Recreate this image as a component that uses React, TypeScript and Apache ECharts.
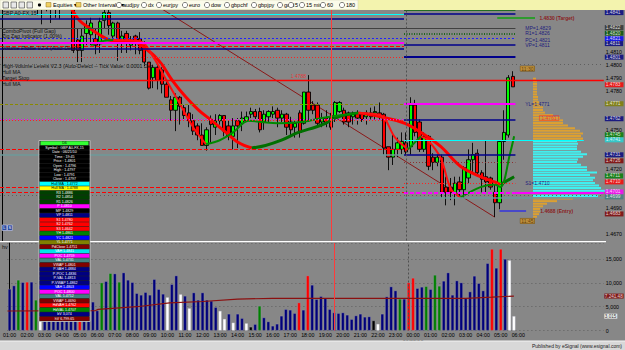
import { useEffect, useRef } from "react";
import * as echarts from "echarts";

// ---------------- data ----------------
const SLOTS = 136;
const slotTimes: string[] = Array.from({ length: SLOTS }, (_, i) => {
  const m = 60 + i * 15;
  const h = Math.floor(m / 60) % 24;
  return `${String(h).padStart(2, "0")}:${String(m % 60).padStart(2, "0")}`;
});
const LAST_LABEL_INDEX = 116;
const NEW_DAY_DATE = "06/22/10";
const SESSION_BREAK = 91; // 23:45 bar
const CURSOR_INDEX = 74;

const PRICE_MIN = 1.4665;
const PRICE_MAX = 1.4842;
const priceGrid = [1.467, 1.468, 1.469, 1.47, 1.471, 1.472, 1.473, 1.474, 1.475, 1.476, 1.477, 1.478, 1.479, 1.48, 1.481, 1.482, 1.483, 1.484];
// tick labels that stay visible beside the value tags
const priceTickLabels = [1.481, 1.48, 1.479, 1.478, 1.475, 1.472, 1.469, 1.467];
const volumeTickLabels = [0, 5000, 10000, 15000];

// [open, close, low, high]
const candles: number[][] = [
  [1.4858, 1.4862, 1.4853, 1.4866], [1.4862, 1.486, 1.4855, 1.4867], [1.486, 1.4856, 1.4851, 1.4863], [1.4856, 1.4859, 1.485, 1.4862],
  [1.4859, 1.4854, 1.4849, 1.4861], [1.4854, 1.4857, 1.4848, 1.486], [1.4857, 1.4853, 1.4847, 1.4859], [1.4853, 1.4851, 1.4845, 1.4856],
  [1.4851, 1.4847, 1.4838, 1.4853], [1.4847, 1.485, 1.4831, 1.4854], [1.485, 1.4848, 1.4841, 1.4856], [1.4848, 1.4845, 1.4832, 1.4852],
  [1.4845, 1.485, 1.4836, 1.4853], [1.485, 1.4847, 1.4835, 1.4855], [1.4847, 1.4852, 1.4844, 1.4858], [1.4852, 1.485, 1.4845, 1.4856],
  [1.4852, 1.4811, 1.4809, 1.4855], [1.4819, 1.4811, 1.4802, 1.4828], [1.4811, 1.4822, 1.4802, 1.4828], [1.4824, 1.483, 1.4815, 1.4834],
  [1.4823, 1.4832, 1.4815, 1.4836], [1.482, 1.4815, 1.4808, 1.4828], [1.4816, 1.4833, 1.4809, 1.4836], [1.4834, 1.484, 1.4828, 1.4842],
  [1.484, 1.483, 1.4823, 1.4842], [1.4822, 1.4832, 1.4818, 1.4833], [1.4832, 1.4818, 1.4803, 1.4833], [1.4817, 1.4822, 1.4809, 1.4826],
  [1.4824, 1.4818, 1.4809, 1.4826], [1.4815, 1.4819, 1.4811, 1.4822], [1.4822, 1.4817, 1.4808, 1.4823], [1.482, 1.4811, 1.4808, 1.4825],
  [1.4815, 1.4802, 1.4799, 1.4818], [1.4802, 1.4782, 1.4781, 1.4802], [1.479, 1.4798, 1.4782, 1.48], [1.4798, 1.4788, 1.4781, 1.48],
  [1.4796, 1.4785, 1.4778, 1.4798], [1.4785, 1.4775, 1.4775, 1.4788], [1.4773, 1.4765, 1.4757, 1.4776], [1.4765, 1.4775, 1.4749, 1.4778],
  [1.4775, 1.4768, 1.4754, 1.4776], [1.4767, 1.4761, 1.4757, 1.4769], [1.4763, 1.4757, 1.4752, 1.4769], [1.4757, 1.4749, 1.4746, 1.4762],
  [1.4753, 1.4746, 1.4742, 1.4755], [1.4746, 1.4738, 1.4738, 1.4755], [1.4738, 1.475, 1.4734, 1.4752], [1.4758, 1.4754, 1.474, 1.4761],
  [1.4752, 1.4757, 1.4746, 1.4762], [1.4757, 1.4761, 1.4754, 1.4762], [1.4761, 1.4749, 1.4745, 1.4761], [1.4753, 1.4745, 1.4742, 1.4757],
  [1.4745, 1.4753, 1.4735, 1.4759], [1.4757, 1.4753, 1.4736, 1.4759], [1.4755, 1.4759, 1.4749, 1.4764], [1.4757, 1.476, 1.4756, 1.4764],
  [1.4762, 1.4764, 1.4759, 1.4767], [1.4764, 1.476, 1.4758, 1.4766], [1.4764, 1.475, 1.4748, 1.4767], [1.4756, 1.4762, 1.475, 1.4765],
  [1.476, 1.4764, 1.4756, 1.4765], [1.4762, 1.4764, 1.4759, 1.4768], [1.4765, 1.4759, 1.4752, 1.4767], [1.4759, 1.4762, 1.4756, 1.4765],
  [1.4762, 1.4752, 1.4746, 1.4763], [1.4756, 1.475, 1.4746, 1.476], [1.4752, 1.4755, 1.4744, 1.4758], [1.4763, 1.4748, 1.4744, 1.4765],
  [1.4755, 1.4779, 1.4754, 1.4779], [1.4779, 1.4765, 1.4756, 1.4792], [1.4769, 1.4765, 1.4762, 1.4772], [1.4769, 1.4755, 1.4752, 1.4771],
  [1.4756, 1.4759, 1.4752, 1.4763], [1.4759, 1.4755, 1.4752, 1.4765], [1.476, 1.4752, 1.475, 1.4763], [1.4759, 1.4771, 1.4756, 1.4772],
  [1.4764, 1.4771, 1.4763, 1.4772], [1.4765, 1.4756, 1.4754, 1.4767], [1.4763, 1.4756, 1.4752, 1.4764], [1.476, 1.4763, 1.4754, 1.4764],
  [1.4763, 1.4759, 1.4754, 1.4765], [1.4762, 1.4758, 1.4756, 1.4763], [1.476, 1.4763, 1.4754, 1.4765], [1.4763, 1.476, 1.4758, 1.4767],
  [1.4763, 1.4764, 1.4758, 1.4768], [1.4763, 1.476, 1.4758, 1.4771], [1.4762, 1.4736, 1.4731, 1.4763], [1.4737, 1.4729, 1.4719, 1.4737],
  [1.4729, 1.4735, 1.4723, 1.4748], [1.4735, 1.474, 1.4729, 1.4744], [1.4735, 1.4741, 1.4731, 1.4748], [1.474, 1.4733, 1.4731, 1.4748],
  [1.4737, 1.4769, 1.4731, 1.4775], [1.4769, 1.4748, 1.4745, 1.4773], [1.4756, 1.4735, 1.4733, 1.4758], [1.4735, 1.4745, 1.4733, 1.4748],
  [1.4745, 1.4722, 1.4719, 1.4746], [1.4729, 1.4725, 1.4719, 1.4732], [1.4725, 1.4729, 1.4722, 1.4731], [1.4729, 1.4702, 1.4698, 1.4731],
  [1.4706, 1.4702, 1.4692, 1.4714], [1.4706, 1.4702, 1.4696, 1.4713], [1.4702, 1.4709, 1.4692, 1.4714], [1.471, 1.4704, 1.4698, 1.4714],
  [1.4704, 1.4721, 1.4698, 1.4722], [1.4713, 1.4727, 1.4709, 1.4735], [1.4727, 1.4731, 1.4717, 1.474], [1.4732, 1.4717, 1.4714, 1.4735],
  [1.4717, 1.4712, 1.4702, 1.4719], [1.4714, 1.471, 1.4702, 1.4742], [1.4713, 1.4706, 1.4704, 1.4714], [1.4702, 1.4694, 1.4683, 1.4708],
  [1.4694, 1.4741, 1.4689, 1.4742], [1.4741, 1.4748, 1.4727, 1.4765], [1.4746, 1.479, 1.4744, 1.4792], [1.4791, 1.4783, 1.4783, 1.4795],
];

const volumes: number[] = [
  8720, 9420, 10610, 10120, 10190, 10190, 6410, 7250, 7800, 7000,
  8500, 9000, 8000, 7500, 8200, 9500, 11000, 8500, 7000, 6000,
  4170, 10050, 10330, 12010, 11940, 10190, 12150, 10610, 10120, 7810,
  7460, 8020, 7460, 10750, 8650, 7670, 6970, 9700, 11520, 7600,
  7250, 4660, 7950, 6410, 7950, 6410, 6200, 4870, 4100, 2420,
  3470, 1640, 3470, 2560, 1510, 740, 1300, 5150, 2700, 1860,
  950, 1370, 3050, 4450, 4310, 3610, 5850, 4310, 11520, 9560,
  6550, 7180, 6830, 4450, 3750, 3610, 3750, 3260, 2350, 3120,
  3470, 2840, 2910, 2070, 1370, 3470, 7110, 9210, 8370, 6620,
  6620, 10050, 11030, 8860, 9140, 9280, 8650, 11660, 9350, 10400,
  12150, 7460, 10470, 10050, 6760, 8160, 11450, 9910, 8370, 14110,
  17120, 13130, 17120, 15020, 14740, 3015,
];
// n normal, g high up, r high down, w low, k lowest
const volumeKinds: string[] = (
  "nngnrngwnn" + "nnnnnnrnnn" + "ngngngnnnn" + "nnnnnnwnnw" + "nwnnnnnnww" + "nwnnwkngnn" +
  "nnnnnnrnrn" + "nnnnnnnnnn" + "nnnkwnnnng" + "nrrnngnggn" + "nnnnnnnnnn" + "rnrnww"
).split("");
const volumeAverage: number[][] = [
  [-0.5, 4100], [19.6, 4200], [20.2, 4450], [29, 5000], [36.5, 5800], [44, 6100], [52, 6600],
  [60, 6760], [104, 6760], [110, 7000], [115, 7241],
];
const VOLUME_AVG_LAST = "7,241.48";
const VOLUME_LAST = "3,015";

// Hull moving averages: [bar index, price]
const slowHullRed = [
  [[15.6, 1.4843], [17.4, 1.4834], [19.7, 1.4828], [21.9, 1.4823], [24.1, 1.4819], [26.8, 1.4818], [29.3, 1.4818], [30.9, 1.4816], [32.4, 1.4812], [34.2, 1.4807], [36.0, 1.48], [38.3, 1.4788], [41.4, 1.4775], [44.3, 1.4765], [47.2, 1.4757], [50.4, 1.4748], [53.3, 1.474], [56.2, 1.4736]],
  [[80.2, 1.4763], [85.3, 1.476], [90.7, 1.4755], [95.2, 1.4746], [98.8, 1.4737], [103.2, 1.4722], [107.7, 1.4714], [110.9, 1.471], [112.2, 1.4708]],
];
const slowHullGreen = [
  [[56.2, 1.4736], [59.3, 1.4738], [62.9, 1.4742], [66.7, 1.4748], [70.5, 1.4752], [72.8, 1.4755], [75.7, 1.476], [80.2, 1.4763]],
  [[112.2, 1.4708], [115.3, 1.4714]],
];
const fastHullRed = [
  [[25.0, 1.4819], [31.0, 1.4818], [34.0, 1.4806], [37.0, 1.4788], [40.0, 1.477], [43.0, 1.4752], [45.9, 1.4739]],
  [[80.2, 1.4763], [85.3, 1.4761], [88.5, 1.4744], [91.4, 1.4735]],
  [[94.3, 1.4745], [95.9, 1.4742], [98.8, 1.4728], [101.0, 1.4705], [103.2, 1.4698]],
];
const fastHullGreen = [
  [[20.0, 1.4815], [22.5, 1.4818], [25.0, 1.4819]],
  [[45.9, 1.4739], [49.0, 1.4742], [52.0, 1.4748], [55.5, 1.4757], [58.4, 1.4756], [62.0, 1.4755], [67.4, 1.4756], [72.0, 1.4759], [75.7, 1.4761], [80.2, 1.4763]],
  [[91.4, 1.4735], [94.3, 1.4745]],
  [[103.2, 1.4698], [107.7, 1.4706], [110.9, 1.4708], [112.2, 1.4706], [114.4, 1.4732], [115.3, 1.4745]],
];
const zigZagLine = [[35.4, 1.4844], [110.9, 1.4683]];

// pivot / level lines
const prevLevels = [1.4839, 1.4835, 1.4817, 1.4814, 1.4812, 1.4806, 1.477, 1.4758, 1.4757, 1.4735, 1.4731, 1.4706, 1.4702];
const prevLevelKinds = ["cyan", "navy", "magenta", "redDash", "navy", "redDot", "oliveDash", "magentaDot", "redDot", "redDash", "teal", "redDash", "redDash"];
const currLevels = [1.4842, 1.4839, 1.4824, 1.4815, 1.4806, 1.477, 1.4758, 1.4731, 1.4725, 1.4709];
const currLevelKinds = ["green", "navy", "greenDot", "navy", "navyBold", "magenta", "navy", "navy", "brownDot", "redDot"];
const wideLevels = [1.4828, 1.482];
const wideLevelKinds = ["gray", "blueDot"];
const VAH_LINE = 1.4742;
const POC_LINE = 1.4702;
const VAL_LINE = 1.4698;
const TARGET_STOP = 1.4788;
const TARGET = 1.4836;
const ENTRY = 1.4688;

// volume profile
const profilePrices = [
  1.4789, 1.4787, 1.4785, 1.4783, 1.4781, 1.4779, 1.4777, 1.4775, 1.4773, 1.4771, 1.4769, 1.4767, 1.4765, 1.4763,
  1.4761, 1.4759, 1.4757, 1.4755, 1.4753, 1.4751, 1.4749, 1.4747, 1.4745, 1.4743, 1.4741, 1.4739, 1.4737, 1.4735,
  1.4733, 1.4731, 1.4729, 1.4727, 1.4725, 1.4723, 1.4721, 1.4719, 1.4717, 1.4715, 1.4713, 1.4711, 1.4709, 1.4707,
  1.4705, 1.4703, 1.4701, 1.4699, 1.4697, 1.4695, 1.4693, 1.4691, 1.4689, 1.4687, 1.4685, 1.4683,
];
const profileVolumes = [
  3, 4, 4, 4, 4, 4, 4, 5, 5, 6, 7, 10, 10, 12,
  20, 27, 30, 30, 35, 42, 47, 50, 48, 50, 44, 45, 44, 44,
  48, 54, 50, 45, 44, 48, 54, 54, 64, 57, 62, 60, 62, 66,
  68, 77, 68, 65, 40, 24, 14, 10, 7, 7, 6, 4,
];
const PROFILE_STEP = 0.0002;
const PROFILE_VAH = 1.4742;
const PROFILE_VAL = 1.4698;

// annotations near the right
const noteTexts = ["MP=1.4829", "R1=1.4826", "PC=1.4821", "VP=1.4811", "1.4830 (Target)", "YL=1.4771", "S1=1.4710", "1.4688 (Entry)", "1.4788", "1.4761"];
const notePoints = [[117.8, 1.4828], [117.8, 1.48245], [117.8, 1.4819], [117.8, 1.48155], [121.0, 1.4836], [117.8, 1.477], [117.8, 1.4709], [121.2, 1.4688], [65.0, 1.4791], [121.0, 1.4759]];
const noteKinds = ["navy", "navy", "navy", "navy", "darkred", "navy", "navy", "darkred", "red", "redbox"];
const timeBoxTexts = ["11:30", "11:45"];
const timeBoxPoints = [[116.7, 1.4797], [116.7, 1.468]];

// right-axis value tags
const tagTexts = ["1.4841", "1.4822", "1.4820", "1.4821", "1.4811", "1.4801", "1.4783", "1.4771", "1.4762", "1.4745", "1.4741", "1.4731", "1.4726", "1.4711", "1.4710", "1.4701", "1.4699", "1.4683"];
const tagPrices = [1.484, 1.48285, 1.48242, 1.482, 1.48162, 1.48058, 1.47846, 1.477, 1.47585, 1.47462, 1.47423, 1.47308, 1.47262, 1.47146, 1.471, 1.47023, 1.46985, 1.46854];
const tagFills = ["#000080", "#303030", "#005000", "#0000ff", "#000080", "#000080", "#ff0000", "#808000", "#000080", "#008000", "#20d8d8", "#000080", "#800000", "#008000", "#ff0000", "#ff00ff", "#408080", "#800000"];

// data window
const infoTexts = [
  "D6", "Symbol : GBP A0-FX,15", "Date : 06/21/10", "Time : 19:45", "Price : 1.4801", "Open : 1.4796", "High : 1.4797", "Low : 1.4791", "Close : 1.4797",
  "Hull MA : 1.4772", "Hull MA : 1.4788", "R3 1.4886", "R2 1.4854", "R1 1.4826", "P 1.4810", "MP 1.4829", "VP 1.4811",
  "S1 1.4780", "S2 1.4762", "S3 1.4642", "YH 1.4861", "YC 1.4821", "YL 1.4771", "PdClose 1.4751", "VAH 1.4841", "POC 1.4759",
  "VAL 1.4731", "VWAP 1.4801", "P-VAH 1.4884", "P-POC 1.4836", "P-VAL 1.4813", "P-VWAP 1.4862", "VAH 1.4803", "POC 1.4800",
  "VAL 1.4712", "VWAP 1.4690", "HdVAH 1.4762", "HdVAL 1.4707", "bV 3,074", "hV 6,799.65",
];
const infoFills = [
  "#33ff33", "#000", "#000", "#000", "#000", "#000", "#000", "#000", "#000",
  "#00ffff", "#ffff00", "#004000", "#004000", "#004000", "#ff00ff", "#000", "#000080",
  "#ff0000", "#ff0000", "#ff0000", "#008000", "#0000ff", "#808000", "#800000", "#00e8e8", "#ff00ff",
  "#408080", "#800000", "#000080", "#000080", "#000080", "#000080", "#0000ff", "#ff00ff",
  "#408080", "#800000", "#ff0000", "#008000", "#000080", "#800000",
];

const toolbarItems = ["audjpy", "dx", "eurjpy", "euro", "dow", "gbpchf", "gbpjpy", "gold", "5", "15 min", "60", "180"];
const toolbarX = [119, 144, 159, 185, 207, 227, 254, 280, 291, 302, 323, 342];
const legendTexts = [
  "GBP A0-FX,15", "ComboPivot (Full Gap)", "Zig Zag Indicator (1.00%)", "Volume Profile V2.4 (Auto-Detect)",
  "High-Volume Levels V2.3 (Auto-Detect -- Tick Value: 0.0001 Dec",
  "Hull MA", "Target Stop", "Hull MA",
];
const legendY = [13, 30.5, 36, 48, 66, 72, 78, 84];

// ---------------- styles ----------------
const FONT = "Liberation Sans, Arial, sans-serif";
const BG = "#878787";
const LS: Record<string, any> = {
  cyan: { color: "#00ffff", width: 1.2, type: "solid" },
  navy: { color: "#00008b", width: 1.5, type: "solid" },
  navyBold: { color: "#00008b", width: 2, type: "solid" },
  magenta: { color: "#ff00ff", width: 2, type: "solid" },
  magentaDot: { color: "#ff00ff", width: 1, type: [1, 2] },
  magentaDash: { color: "#ff00ff", width: 1.8, type: [4, 2] },
  redDash: { color: "#ff0000", width: 1, type: [4, 2] },
  redDot: { color: "#ff2020", width: 1, type: [1, 2] },
  red: { color: "#ff0000", width: 1.4, type: "solid" },
  oliveDash: { color: "#8a8a00", width: 1, type: [3, 2] },
  teal: { color: "#6d9a9a", width: 1.5, type: "solid" },
  green: { color: "#006400", width: 1.5, type: "solid" },
  greenDot: { color: "#005a00", width: 1.5, type: [1, 1.5] },
  brownDot: { color: "#8b3030", width: 1, type: [1, 2] },
  gray: { color: "#404040", width: 1, type: "solid" },
  blueDot: { color: "#2020ff", width: 1, type: [2, 2] },
  target: { color: "#10a010", width: 1.5, type: "solid" },
  entry: { color: "#4848c8", width: 2, type: "solid" },
};
const VOL_COLORS: Record<string, string> = { n: "#00007a", g: "#008000", r: "#ff0000", w: "#ffffff", k: "#000000" };
const NOTE_COLORS: Record<string, string> = { navy: "#00007a", darkred: "#8b0000", red: "#ff2020", redbox: "#ff2020" };

function seg(from: number, to: number, price: number, style: any) {
  return [{ coord: [from, price], lineStyle: style }, { coord: [to, price] }];
}

function buildOption(): any {
  const levelLines: any[] = [];
  priceGrid.forEach((p) => levelLines.push({ yAxis: p, lineStyle: { color: "#5f5f5f", width: 1, type: [1, 3] } }));
  prevLevels.forEach((p, i) => levelLines.push(seg(-0.5, 90.5, p, LS[prevLevelKinds[i]])));
  currLevels.forEach((p, i) => levelLines.push(seg(90.5, 115.6, p, LS[currLevelKinds[i]])));
  wideLevels.forEach((p, i) => levelLines.push(seg(-0.5, 115.6, p, LS[wideLevelKinds[i]])));
  levelLines.push(seg(90.5, 131, VAH_LINE, LS.cyan));
  levelLines.push(seg(90.5, 115.6, POC_LINE, LS.magentaDash));
  levelLines.push(seg(115.6, 135.5, POC_LINE, LS.magenta));
  levelLines.push(seg(90.5, 135.5, VAL_LINE, LS.teal));
  levelLines.push(seg(-0.5, 135.5, TARGET_STOP, LS.red));
  levelLines.push(seg(111.5, 120, TARGET, LS.target));
  levelLines.push(seg(112, 118, ENTRY, LS.entry));
  levelLines.push({ xAxis: SESSION_BREAK, lineStyle: { color: "#505050", width: 1, type: [2, 2] } });
  levelLines.push({ xAxis: CURSOR_INDEX, lineStyle: { color: "#ff3a3a", width: 1, type: "solid" } });

  const hullSeries: any[] = [];
  const addHull = (segs: number[][][], color: string, width: number) =>
    segs.forEach((d) =>
      hullSeries.push({
        type: "line", xAxisIndex: 2, yAxisIndex: 0, data: d, smooth: 0.35, symbol: "none", z: 4,
        lineStyle: { color, width }, silent: true, clip: true,
      })
    );
  addHull(slowHullRed, "#ff0000", 3);
  addHull(slowHullGreen, "#007000", 3);
  addHull(fastHullRed, "#ff1010", 2);
  addHull(fastHullGreen, "#008a00", 2);

  const notes = noteTexts.map((t, i) => ({
    value: notePoints[i], name: t,
    label: noteKinds[i] === "redbox"
      ? { color: NOTE_COLORS.redbox, borderColor: "#ff2020", borderWidth: 0.6, padding: [0, 2] }
      : { color: NOTE_COLORS[noteKinds[i]], fontWeight: noteKinds[i] === "darkred" ? "bold" : "normal" },
  }));
  timeBoxTexts.forEach((t, i) =>
    notes.push({ value: timeBoxPoints[i], name: t, label: { color: "#4a2800", backgroundColor: "#c8902a", borderColor: "#6a4a10", borderWidth: 0.5, padding: [0, 1] } as any })
  );

  const tags = tagTexts.map((t, i) => ({
    value: [135.5, tagPrices[i]], name: t,
    label: { backgroundColor: tagFills[i] },
  }));

  const graphics: any[] = [];
  // toolbar
  graphics.push({ type: "rect", z: 100, shape: { x: 0, y: 0, width: 625, height: 10 }, style: { fill: "#f3f3ae" } });
  graphics.push({ type: "rect", z: 100, shape: { x: 0, y: 0, width: 358, height: 9.5 }, style: { fill: "#fbfbea", stroke: "#d0d0b0", lineWidth: 0.5 } });
  [3, 11, 19, 27].forEach((x) =>
    graphics.push({ type: "rect", z: 101, shape: { x, y: 2, width: 5.5, height: 6 }, style: { fill: "#e8e8e8", stroke: "#404040", lineWidth: 0.6 } })
  );
  graphics.push({ type: "circle", z: 101, shape: { cx: 39.5, cy: 5, r: 1.6 }, style: { fill: "#000" } });
  [[46, "Equities ▾"], [76, "Other Intervals ▾"]].forEach(([x, t]: any) => {
    graphics.push({ type: "rect", z: 101, shape: { x, y: 2.5, width: 5, height: 4.5 }, style: { fill: "#f0d060", stroke: "#907020", lineWidth: 0.5 } });
    graphics.push({ type: "text", z: 101, x: x + 7, y: 5, style: { text: t, fill: "#000", fontSize: 5.5, fontFamily: FONT, verticalAlign: "middle" } });
  });
  toolbarItems.forEach((t, i) => {
    graphics.push({ type: "circle", z: 101, shape: { cx: toolbarX[i], cy: 5, r: 2.6 }, style: { fill: "#fff", stroke: "#333", lineWidth: 0.6 } });
    graphics.push({ type: "text", z: 101, x: toolbarX[i] + 4, y: 5, style: { text: t, fill: "#000", fontSize: 5.5, fontFamily: FONT, verticalAlign: "middle" } });
  });
  // legend
  legendTexts.forEach((t, i) =>
    graphics.push({ type: "text", z: 90, x: 2, y: legendY[i], style: { text: t, fill: "#101010", fontSize: 5.3, fontFamily: FONT, verticalAlign: "middle" } })
  );
  // panel separator
  graphics.push({ type: "line", z: 90, shape: { x1: 0, y1: 241.6, x2: 606, y2: 241.6 }, style: { stroke: "#ffffff", lineWidth: 1.4 } });
  graphics.push({ type: "text", z: 90, x: 2, y: 247, style: { text: "hv", fill: "#101010", fontSize: 5.3, fontFamily: FONT, verticalAlign: "middle" } });
  // L / S buttons
  [["L", 2], ["S", 7.5]].forEach(([t, x]: any) => {
    graphics.push({ type: "rect", z: 90, shape: { x, y: 225, width: 4.8, height: 5.5 }, style: { fill: "#2a4aa0", stroke: "#e0e0ff", lineWidth: 0.5 } });
    graphics.push({ type: "text", z: 91, x: x + 2.4, y: 227.9, style: { text: t, fill: "#fff", fontSize: 4, fontFamily: FONT, align: "center", verticalAlign: "middle" } });
  });
  // data window
  const bx = 39, by = 141, rowH = 4.5;
  graphics.push({ type: "rect", z: 110, shape: { x: bx, y: by - 0.5, width: 51, height: infoTexts.length * rowH + 1 }, style: { fill: "#202020", stroke: "#d0d0d0", lineWidth: 0.8 } });
  infoTexts.forEach((t, i) => {
    const fill = infoFills[i];
    const bright = ["#33ff33", "#00ffff", "#ffff00"].includes(fill);
    graphics.push({ type: "rect", z: 111, shape: { x: i === 0 ? bx + 1.5 : bx + 0.6, y: by + i * rowH + 0.2, width: i === 0 ? 48 : 49.8, height: rowH - 0.4 }, style: { fill } });
    graphics.push({ type: "text", z: 112, x: bx + 25.5, y: by + i * rowH + rowH / 2, style: { text: t, fill: bright ? "#000" : "#fff", fontSize: 3.6, fontFamily: FONT, align: "center", verticalAlign: "middle" } });
  });
  // footer
  graphics.push({ type: "rect", z: 100, shape: { x: 0, y: 341, width: 625, height: 9 }, style: { fill: "#d8d8d8" } });
  graphics.push({ type: "line", z: 100, shape: { x1: 0, y1: 341, x2: 625, y2: 341 }, style: { stroke: "#f4f4f4", lineWidth: 1 } });
  graphics.push({ type: "text", z: 101, x: 622, y: 345.5, style: { text: "Published by eSignal (www.esignal.com)", fill: "#202020", fontSize: 5, fontFamily: FONT, align: "right", verticalAlign: "middle" } });

  const isTick = (v: number, list: number[], scale: number) => list.some((t) => Math.round(t * scale) === Math.round(v * scale));

  return {
    animation: false,
    backgroundColor: BG,
    textStyle: { fontFamily: FONT },
    grid: [
      { left: 0, right: 18, top: 10, bottom: 109.5 },
      { left: 0, right: 18, top: 243, bottom: 19.5 },
      { left: 533, right: 18, top: 10, bottom: 109.5 },
    ],
    xAxis: [
      { type: "category", gridIndex: 0, data: slotTimes, show: false },
      {
        type: "category", gridIndex: 1, data: slotTimes,
        axisLine: { show: false }, axisTick: { show: false }, splitLine: { show: false },
        axisLabel: {
          fontSize: 5.3, color: "#000", margin: 1.5, lineHeight: 6.5,
          interval: (i: number, v: string) => v.endsWith(":00") && i <= LAST_LABEL_INDEX,
          formatter: (v: string) => (v === "00:00" ? `${v}\n${NEW_DAY_DATE}` : v),
        },
      },
      { type: "value", gridIndex: 0, min: -0.5, max: SLOTS - 0.5, show: false },
      { type: "value", gridIndex: 1, min: -0.5, max: SLOTS - 0.5, show: false },
      { type: "value", gridIndex: 2, min: 0, max: 74, show: false },
    ],
    yAxis: [
      {
        type: "value", gridIndex: 0, position: "right", min: PRICE_MIN, max: PRICE_MAX, interval: 0.0005,
        axisLine: { show: true, lineStyle: { color: "#000", width: 1 } }, axisTick: { show: false }, splitLine: { show: false },
        axisLabel: {
          fontSize: 5.3, color: "#000", margin: 2,
          formatter: (v: number) => (isTick(v, priceTickLabels, 10000) ? v.toFixed(4) : ""),
        },
      },
      {
        type: "value", gridIndex: 1, position: "right", min: 0, max: 18400, interval: 5000,
        axisLine: { show: true, lineStyle: { color: "#000", width: 1 } }, axisTick: { show: false },
        splitLine: { show: true, lineStyle: { color: "#5f5f5f", width: 1, type: [1, 3] } },
        axisLabel: {
          fontSize: 5.3, color: "#000", margin: 2,
          formatter: (v: number) => (isTick(v, volumeTickLabels, 1) ? v.toLocaleString("en-US") : ""),
        },
      },
      { type: "value", gridIndex: 2, min: PRICE_MIN, max: PRICE_MAX, show: false },
    ],
    graphic: { elements: graphics },
    series: [
      {
        type: "line", name: "levels", xAxisIndex: 2, yAxisIndex: 0, data: zigZagLine, symbol: "none", z: 1, silent: true,
        lineStyle: { color: "#8b1818", width: 1 },
        markLine: { silent: true, symbol: ["none", "none"], label: { show: false }, animation: false, data: levelLines },
      },
      {
        type: "candlestick", xAxisIndex: 0, yAxisIndex: 0, data: candles, barWidth: 3.8, z: 3, clip: true, silent: true,
        itemStyle: { color: "#00ff00", color0: "#ff0000", borderColor: "#000", borderColor0: "#000", borderWidth: 0.9 },
      },
      ...hullSeries,
      {
        type: "custom", xAxisIndex: 4, yAxisIndex: 2, z: 2, silent: true,
        data: profilePrices.map((p, i) => [profileVolumes[i], p]),
        encode: { x: 0, y: 1 },
        renderItem: (_params: any, api: any) => {
          const v = api.value(0) as number;
          const p = api.value(1) as number;
          const a = api.coord([0, p + PROFILE_STEP / 2]);
          const b = api.coord([v, p - PROFILE_STEP / 2]);
          const inVA = p <= PROFILE_VAH + 1e-9 && p >= PROFILE_VAL - 1e-9;
          return {
            type: "rect",
            shape: { x: a[0], y: a[1], width: b[0] - a[0], height: Math.max(0.8, b[1] - a[1] - 0.6) },
            style: { fill: inVA ? "#3ff0f0" : "#dca032" },
          };
        },
      },
      {
        type: "scatter", xAxisIndex: 2, yAxisIndex: 0, data: notes, symbolSize: 0, clip: false, z: 6, silent: true,
        label: { show: true, position: "right", distance: 0, formatter: "{b}", fontSize: 5, fontFamily: FONT },
      },
      {
        type: "scatter", xAxisIndex: 2, yAxisIndex: 0, data: tags, symbolSize: 0, clip: false, z: 7, silent: true,
        label: { show: true, position: "right", distance: 1, formatter: "{b}", fontSize: 4.8, lineHeight: 5, color: "#fff", padding: [0, 3, 0, 1], fontFamily: FONT },
      },
      {
        type: "bar", xAxisIndex: 1, yAxisIndex: 1, barWidth: 3, z: 2, silent: true,
        data: volumes.map((v, i) => ({ value: v, itemStyle: { color: VOL_COLORS[volumeKinds[i]], borderColor: "#a8a8b8", borderWidth: 0.3 } })),
      },
      {
        type: "line", xAxisIndex: 3, yAxisIndex: 1, data: volumeAverage, symbol: "none", z: 4, silent: true,
        lineStyle: { color: "#8b1010", width: 1.2 },
        markLine: {
          silent: true, symbol: ["none", "none"], label: { show: false }, animation: false,
          data: [
            { xAxis: SESSION_BREAK, lineStyle: { color: "#505050", width: 1, type: [2, 2] } },
            { xAxis: CURSOR_INDEX, lineStyle: { color: "#ff3a3a", width: 1, type: "solid" } },
          ],
        },
      },
      {
        type: "scatter", xAxisIndex: 3, yAxisIndex: 1, symbolSize: 0, clip: false, z: 7, silent: true,
        data: [
          { value: [135.5, 7241], name: VOLUME_AVG_LAST, label: { backgroundColor: "#800000", color: "#fff" } },
          { value: [135.5, 3015], name: VOLUME_LAST, label: { backgroundColor: "#ffffff", color: "#000" } },
        ],
        label: { show: true, position: "right", distance: 0.5, formatter: "{b}", fontSize: 4.6, lineHeight: 5, padding: [0, 1, 0, 0.5], fontFamily: FONT },
      },
    ],
  };
}

export default function App() {
  const ref = useRef<HTMLDivElement>(null);
  useEffect(() => {
    if (!ref.current) return;
    const chart = echarts.init(ref.current, null, { renderer: "svg" });
    chart.setOption(buildOption());
    return () => chart.dispose();
  }, []);
  return <div ref={ref} style={{ position: "absolute", left: 0, top: 0, width: 625, height: 350 }} />;
}
